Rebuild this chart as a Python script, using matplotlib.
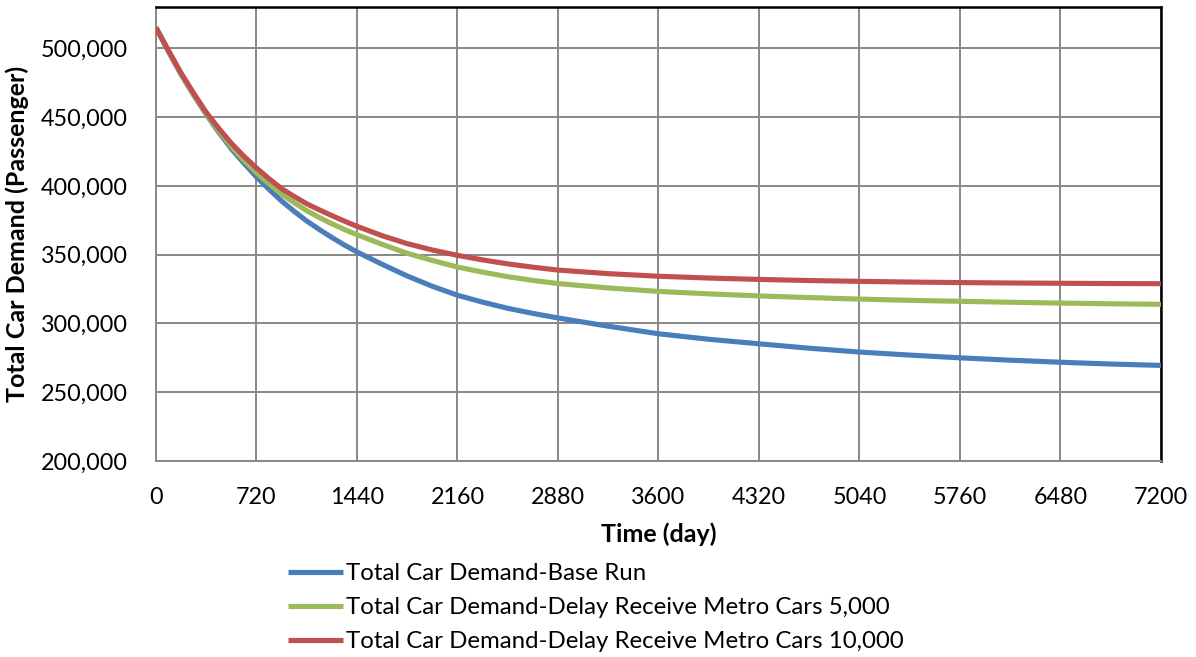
import matplotlib
matplotlib.use("Agg")
import matplotlib.pyplot as plt
from matplotlib.ticker import FuncFormatter, MultipleLocator

plt.rcParams['font.family'] = ['Lato', 'DejaVu Sans']

# Simulation time (day)
time_days = [0, 90, 180, 270, 360, 450, 540, 630, 720, 810, 900, 990, 1080,
             1170, 1260, 1350, 1440, 1620, 1800, 1980, 2160, 2340, 2520, 2700,
             2880, 3240, 3600, 3960, 4320, 4680, 5040, 5400, 5760, 6120, 6480,
             6840, 7200]

# Total car demand (passenger) for each scenario
base_run = [515000, 497500, 481000, 466000, 452000, 439000, 427000, 416500,
            406500, 397500, 389000, 381500, 374500, 368300, 362500, 357000,
            352000, 343000, 334500, 327000, 320500, 315500, 311000, 307300,
            304000, 298000, 292500, 288500, 285200, 282000, 279200, 277000,
            275000, 273300, 271800, 270500, 269500]
delay_5000 = [515000, 498000, 481500, 466500, 452500, 440000, 428500, 418500,
              409500, 401500, 394000, 387800, 382000, 377000, 372500, 368300,
              364500, 357500, 351000, 345800, 341000, 337300, 334000, 331300,
              329000, 325800, 323300, 321500, 320000, 318800, 317700, 316800,
              316100, 315400, 314800, 314300, 313900]
delay_10000 = [515000, 498300, 482000, 467300, 453500, 441800, 431000, 421500,
               413000, 405200, 398000, 392300, 387000, 382600, 378400, 374400,
               370600, 363800, 358000, 353400, 349500, 346200, 343300, 340900,
               338800, 336200, 334300, 333000, 332000, 331200, 330600, 330100,
               329700, 329400, 329200, 329000, 328900]

series_labels = ["Total Car Demand-Base Run",
                 "Total Car Demand-Delay Receive Metro Cars 5,000",
                 "Total Car Demand-Delay Receive Metro Cars 10,000"]
series_colors = ["#4A7EBB", "#9BBB59", "#C0504D"]

fig = plt.figure(figsize=(11.96, 6.57), dpi=100)
ax = fig.add_axes([0.1304, 0.2983, 0.9707 - 0.1304, 0.9893 - 0.2983])

for values, label, color in zip([base_run, delay_5000, delay_10000],
                                series_labels, series_colors):
    ax.plot(time_days, values, color=color, lw=3.7, label=label,
            solid_capstyle='butt', solid_joinstyle='round', zorder=3)

ax.set_xlim(0, 7200)
ax.set_ylim(200000, 530000)
ax.xaxis.set_major_locator(MultipleLocator(720))
ax.yaxis.set_major_locator(MultipleLocator(50000))
ax.yaxis.set_major_formatter(FuncFormatter(lambda v, p: f"{v:,.0f}"))

ax.grid(True, color="#888888", lw=1.4, zorder=1)
ax.tick_params(axis='both', length=0, labelsize=16.8, colors='black')
ax.tick_params(axis='y', pad=20)
ax.tick_params(axis='x', pad=19)

for side in ['left', 'bottom']:
    ax.spines[side].set_color('#888888')
    ax.spines[side].set_linewidth(1.4)
for side in ['top', 'right']:
    ax.spines[side].set_color('black')
    ax.spines[side].set_linewidth(1.8)

ax.set_xlabel("Time (day)", fontsize=18, fontweight='bold', labelpad=10)
ax.set_ylabel("Total Car Demand (Passenger)", fontsize=18, fontweight='bold',
              labelpad=9)

handles, labels = ax.get_legend_handles_labels()
fig.legend(handles, labels, loc='upper left',
           bbox_to_anchor=(0.241, 0.143), bbox_transform=fig.transFigure,
           frameon=False, fontsize=17.3, handlelength=2.3, handletextpad=0.12,
           labelspacing=0.55, borderaxespad=0, borderpad=0)

fig.savefig("out.png", dpi=100)
